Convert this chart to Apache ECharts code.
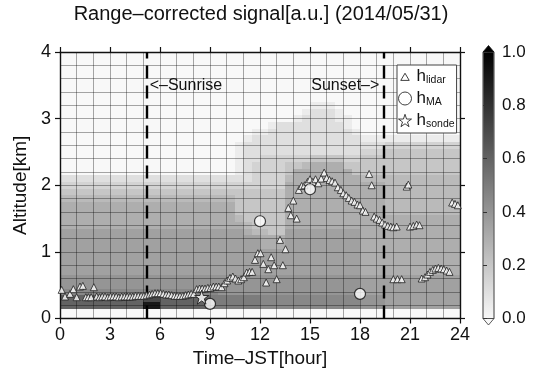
<!DOCTYPE html>
<html><head><meta charset="utf-8">
<script src="https://cdn.jsdelivr.net/npm/echarts@6/dist/echarts.min.js"></script>
<style>html,body{margin:0;padding:0;background:#fff}#c{width:538px;height:374px}</style>
</head><body><div id="c"></div>
<script>
// ---------------- data ----------------
const titleText = 'Range\u2013corrected signal[a.u.] (2014/05/31)';
const xAxisName = 'Time\u2013JST[hour]';
const yAxisName = 'Altitude[km]';
const sunriseText = '<\u2013Sunrise';
const sunsetText = 'Sunset\u2013>';
const sunriseHour = 5.2;
const sunsetHour = 19.4;
const colorbarTicks = [0.0, 0.2, 0.4, 0.6, 0.8, 1.0];

// range-corrected signal, 0.5 h time bins; rows from top to bottom between altEdges
const timeBinWidth = 0.5;
const altEdges = [4.0, 3.5, 3.25, 3.15, 3.05, 2.95, 2.85, 2.75, 2.65, 2.55, 2.45, 2.35, 2.25, 2.15, 2.05,
  1.95, 1.85, 1.75, 1.65, 1.55, 1.45, 1.35, 1.25, 1.15, 1.05, 0.95, 0.85, 0.75, 0.65, 0.55, 0.45, 0.35, 0.25, 0.15, 0];
// base-36 char c => signal parseInt(c,36)/20 (0..9 = 0..0.45, a..k = 0.5..1.0)
// spaces only separate hour groups (0-9, 9-12, 12-13.5, 13.5-18, 18-19.5, 19.5-24)
const signalRows = [
  "000000000000000000 000000 000 000000000 000 000000000",
  "000000000000000000 000000 000 000000000 000 000000000",
  "000000000000000000 000000 000 000111000 000 000000000",
  "000000000000000000 000000 000 001222100 000 000000000",
  "000000000000000000 000000 000 012222110 000 000000000",
  "000000000000000000 000000 012 222222210 000 000000000",
  "000000000000000000 000001 122 222222221 000 000000000",
  "000000000000000000 000012 222 222222222 111 111111111",
  "000000000000000000 000122 222 222222222 222 333333333",
  "000000000000000000 000122 222 222222222 333 444444444",
  "000000000000000000 000122 333 333444433 444 444444444",
  "000000000000000000 000123 333 445666644 444 444444444",
  "000000000000000000 000123 333 466666664 444 444444444",
  "222222222222222222 222223 333 566666666 555 555555555",
  "333333333333333333 333333 333 666666666 666 555555555",
  "444444444444444444 444444 444 666666666 666 555555555",
  "555555555555555555 555444 444 666666666 666 555555555",
  "666666666666666666 666444 444 666666666 666 555555555",
  "666666666666666666 666444 444 666666666 666 555555555",
  "666666666666666666 666544 444 666666666 666 666666666",
  "666666666666666666 666654 444 666666666 666 666666666",
  "777777777777777777 777765 544 777777777 666 666666666",
  "777777777777777777 777777 666 777777777 666 666666666",
  "777777777777777777 777777 666 777777777 666 666666666",
  "777777777777777777 777777 777 777777777 666 666666666",
  "777777777777777777 777777 777 777777777 666 666666666",
  "777777777777777777 777777 777 777777777 666 666666666",
  "777777777777777777 777777 777 777777777 666 666666666",
  "888888888888888888 888888 888 888888888 777 777777777",
  "888888888888888888 888888 888 888888888 777 777777777",
  "999999999999999999 988888 888 888888888 777 777777777",
  "cccccccccceecccccc aaaaaa 999 999999999 888 777777777",
  "cccccccccciicccccc aaaaaa 999 999999999 888 777777777",
  "000000000000000000 000000 000 000000000 000 000000000"
];

const lidarHour = [
  0.1, 0.3, 0.6, 0.8, 1.0, 1.2, 1.37, 1.55, 1.7, 1.87, 2.03,
  2.2, 2.37, 2.53, 2.7, 2.87, 3.03, 3.2, 3.37, 3.53, 3.7, 3.87, 4.03, 4.2, 4.37, 4.53, 4.7, 4.87, 5.03, 5.2,
  5.37, 5.53, 5.7, 5.87, 6.03, 6.2, 6.37, 6.53, 6.7, 6.87, 7.03, 7.2, 7.37, 7.53, 7.7, 7.87, 8.03,
  8.2, 8.37, 8.53, 8.7, 8.87, 9.03, 9.2, 9.37, 9.53, 9.7, 9.87, 10.03, 10.2, 10.37, 10.53, 10.7, 10.87, 11.03, 11.2, 11.37, 11.53,
  11.7, 11.87, 12.03, 12.2, 12.37, 12.5, 12.67, 12.85, 13.0, 13.2, 13.37, 13.53,
  13.7, 13.85, 14.0, 14.2, 14.33, 14.5, 14.67, 14.85, 15.0, 15.17, 15.33, 15.5, 15.67, 15.85, 16.0, 16.17, 16.33, 16.5, 16.67, 16.85, 17.0, 17.17, 17.33, 17.5, 17.67, 17.85, 18.0, 18.17, 18.33,
  18.55, 18.7, 18.85, 19.0, 19.17, 19.33, 19.5, 19.67, 19.85, 20.0, 20.2,
  20.0, 20.25, 20.5,
  20.8, 20.9,
  21.0, 21.2, 21.4, 21.57,
  21.7, 21.9, 22.05, 22.2, 22.37, 22.53, 22.7, 22.87, 23.03, 23.2, 23.37,
  23.53, 23.7, 23.87
];
const lidarAlt = [
  0.43, 0.33, 0.37, 0.44, 0.32, 0.48, 0.49, 0.32, 0.32, 0.32, 0.47,
  0.33, 0.32, 0.33, 0.33, 0.32, 0.33, 0.33, 0.33, 0.32, 0.33, 0.33, 0.33, 0.33, 0.33, 0.34, 0.34, 0.34, 0.34, 0.35,
  0.36, 0.37, 0.38, 0.38, 0.38, 0.37, 0.36, 0.36, 0.35, 0.34, 0.34, 0.34, 0.34, 0.35, 0.36, 0.37, 0.37,
  0.44, 0.45, 0.45, 0.45, 0.46, 0.46, 0.48, 0.48, 0.48, 0.47, 0.53, 0.57, 0.61, 0.63, 0.6, 0.57, 0.59, 0.62, 0.69, 0.7, 0.7,
  0.88, 0.98, 0.98, 0.82, 0.54, 0.74, 0.92, 0.8, 0.59, 1.18, 0.8, 1.04,
  1.66, 1.55, 1.77, 1.5, 1.93, 1.99, 2.0, 2.05, 2.09, 2.05, 2.09, 2.03, 2.1, 2.19, 2.11, 2.08, 2.06, 2.04, 1.97, 1.93, 1.88, 1.85, 1.81, 1.77, 1.75, 1.71, 1.70, 1.62, 1.6,
  2.17, 2.0, 1.53, 1.5, 1.48, 1.44, 1.41, 1.39, 1.38, 1.37, 1.38,
  0.59, 0.59, 0.59,
  1.98, 2.01,
  1.38, 1.39, 1.41, 1.4,
  0.6, 0.62, 0.66, 0.7, 0.73, 0.75, 0.76, 0.75, 0.74, 0.72, 0.7,
  1.74, 1.72, 1.7
];
const maHour = [9.0, 12.0, 15.0, 18.0];
const maAlt = [0.22, 1.46, 1.94, 0.37];
const sondeHour = [8.5];
const sondeAlt = [0.32];

// ---------------- chart ----------------
const FONT = '"Liberation Sans", Arial, Helvetica, sans-serif';
const INK = '#111';
const GRIDC = 'rgba(0,0,0,0.34)';
function grayOf(v) { const g = Math.round(248 * (1 - v)); return 'rgb(' + g + ',' + g + ',' + g + ')'; }

const cells = [];
signalRows.forEach(function (row, i) {
  const s = row.replace(/ /g, '');
  if (s.length !== 48) throw new Error('signal row ' + i + ' has ' + s.length + ' bins');
  for (let c = 0; c < s.length; c++) {
    cells.push([c * timeBinWidth, (c + 1) * timeBinWidth, altEdges[i + 1], altEdges[i], parseInt(s[c], 36) / 20]);
  }
});
if (lidarHour.length !== lidarAlt.length) throw new Error('lidar arrays differ ' + lidarHour.length + ' ' + lidarAlt.length);

const starPath = 'path://M50,2 L61.2,36.1 L97,36.1 L68,57.3 L79.1,91.4 L50,70.3 L20.9,91.4 L32,57.3 L3,36.1 L38.8,36.1 Z';
const triLegendPath = 'path://M0,0 M20,20 M10,5 L16.5,16 L3.5,16 Z';
const subNames = { h_lidar: 'lidar', h_MA: 'MA', h_sonde: 'sonde' };

const chart = echarts.init(document.getElementById('c'), null, { renderer: 'canvas' });
const axisLineStyle = { color: INK, width: 1.4 };
chart.setOption({
  animation: false,
  textStyle: { fontFamily: FONT },
  grid: [
    { left: 60, top: 52, width: 400, height: 266.5, outerBoundsMode: 'none', containLabel: false },
    { left: 483, top: 52, width: 11, height: 266.5, outerBoundsMode: 'none', containLabel: false }
  ],
  xAxis: [
    { type: 'value', gridIndex: 0, min: 0, max: 24, interval: 3, position: 'bottom', z: 3,
      name: xAxisName, nameLocation: 'middle', nameGap: 27,
      nameTextStyle: { fontSize: 19, color: INK, fontFamily: FONT },
      axisLine: { show: true, onZero: false, lineStyle: axisLineStyle },
      axisTick: { show: true, inside: false, length: 5, lineStyle: { color: INK, width: 1.2 } },
      axisLabel: { fontSize: 18, color: INK, margin: 8, fontFamily: FONT },
      splitLine: { show: true, lineStyle: { color: GRIDC, width: 1 } },
      minorTick: { show: false, splitNumber: 3 },
      minorSplitLine: { show: true, lineStyle: { color: GRIDC, width: 1 } } },
    { type: 'value', gridIndex: 0, min: 0, max: 24, interval: 3, position: 'top', z: 3,
      axisLine: { show: true, onZero: false, lineStyle: axisLineStyle },
      axisTick: { show: true, inside: false, length: 5, lineStyle: { color: INK, width: 1.2 } },
      axisLabel: { show: false }, splitLine: { show: false } },
    { type: 'value', gridIndex: 1, min: 0, max: 1, show: false }
  ],
  yAxis: [
    { type: 'value', gridIndex: 0, min: 0, max: 4, interval: 1, position: 'left', z: 3,
      name: yAxisName, nameLocation: 'middle', nameGap: 29, nameRotate: 90,
      nameTextStyle: { fontSize: 19, color: INK, fontFamily: FONT },
      axisLine: { show: true, onZero: false, lineStyle: axisLineStyle },
      axisTick: { show: true, inside: false, length: 5, lineStyle: { color: INK, width: 1.2 } },
      axisLabel: { fontSize: 18, color: INK, margin: 9, fontFamily: FONT },
      splitLine: { show: true, lineStyle: { color: GRIDC, width: 1 } },
      minorTick: { show: false, splitNumber: 5 },
      minorSplitLine: { show: true, lineStyle: { color: GRIDC, width: 1 } } },
    { type: 'value', gridIndex: 0, min: 0, max: 4, interval: 1, position: 'right', z: 3,
      axisLine: { show: true, onZero: false, lineStyle: axisLineStyle },
      axisTick: { show: true, inside: false, length: 5, lineStyle: { color: INK, width: 1.2 } },
      axisLabel: { show: false }, splitLine: { show: false } },
    { type: 'value', gridIndex: 1, min: 0, max: 1, interval: 0.2, position: 'right', z: 3,
      axisLine: { show: false },
      axisTick: { show: true, inside: false, length: 4, lineStyle: { color: '#333', width: 1 } },
      axisLabel: { fontSize: 17, color: INK, margin: 8, fontFamily: FONT, formatter: function (v) { return v.toFixed(1); } },
      splitLine: { show: false } }
  ],
  legend: {
    data: [
      { name: 'h_lidar', icon: triLegendPath },
      { name: 'h_MA', icon: 'circle' },
      { name: 'h_sonde', icon: starPath }
    ],
    orient: 'vertical', left: 397, top: 65, z: 10,
    padding: [3, 2, 3, 1], itemGap: 4, itemWidth: 13, itemHeight: 13,
    backgroundColor: '#fff', borderColor: '#444', borderWidth: 1, borderRadius: 0,
    itemStyle: { color: '#fff', borderColor: INK, borderWidth: 1 },
    formatter: function (n) { return '{h|h}{s|' + subNames[n] + '}'; },
    textStyle: { color: INK, fontFamily: FONT,
      rich: { h: { fontSize: 17, color: INK, fontFamily: FONT },
              s: { fontSize: 10.5, color: INK, fontFamily: FONT, padding: [8, 0, 0, 0] } } }
  },
  series: [
    { type: 'custom', name: 'signal', xAxisIndex: 0, yAxisIndex: 0, z: 1, silent: true,
      encode: { x: [0, 1], y: [2, 3] }, data: cells,
      renderItem: function (params, api) {
        const p0 = api.coord([api.value(0), api.value(3)]);
        const p1 = api.coord([api.value(1), api.value(2)]);
        const x = Math.round(p0[0]), y = Math.round(p0[1]);
        return { type: 'rect', shape: { x: x, y: y, width: Math.round(p1[0]) - x, height: Math.round(p1[1]) - y },
                 style: { fill: grayOf(api.value(4)) } };
      } },
    { type: 'custom', name: 'colorbar', xAxisIndex: 2, yAxisIndex: 2, z: 2, silent: true,
      data: [[0, 0]],
      renderItem: function (params, api) {
        const tl = api.coord([0, 1]), br = api.coord([1, 0]);
        const x0 = tl[0], y0 = tl[1], x1 = br[0], y1 = br[1], mid = (x0 + x1) / 2;
        return { type: 'group', children: [
          { type: 'rect', shape: { x: x0, y: y0, width: x1 - x0, height: y1 - y0 },
            style: { fill: new echarts.graphic.LinearGradient(0, 0, 0, 1, [
              { offset: 0, color: grayOf(1) }, { offset: 1, color: grayOf(0) }]), stroke: '#666', lineWidth: 0.8 } },
          { type: 'polygon', shape: { points: [[x0, y0], [x1, y0], [mid, y0 - 6.5]] }, style: { fill: grayOf(1), stroke: '#111', lineWidth: 0.8 } },
          { type: 'polygon', shape: { points: [[x0, y1], [x1, y1], [mid, y1 + 6.5]] }, style: { fill: grayOf(0), stroke: '#333', lineWidth: 0.8 } }
        ] };
      } },
    { type: 'scatter', name: 'marks', xAxisIndex: 0, yAxisIndex: 0, data: [], z: 4, silent: true,
      markLine: { silent: true, symbol: 'none', z: 4, label: { show: false },
        lineStyle: { type: [13, 7], width: 2.4, color: '#000' },
        data: [{ xAxis: sunriseHour }, { xAxis: sunsetHour }] } },
    { type: 'scatter', name: 'h_lidar', xAxisIndex: 0, yAxisIndex: 0, z: 6,
      data: lidarHour.map(function (h, i) { return [h, lidarAlt[i]]; }),
      symbol: 'triangle', symbolSize: [7, 7],
      itemStyle: { color: '#fff', borderColor: '#222', borderWidth: 1 } },
    { type: 'scatter', name: 'h_MA', xAxisIndex: 0, yAxisIndex: 0, z: 7,
      data: maHour.map(function (h, i) { return [h, maAlt[i]]; }),
      symbol: 'circle', symbolSize: 11,
      itemStyle: { color: '#fff', borderColor: '#111', borderWidth: 1.2 } },
    { type: 'scatter', name: 'h_sonde', xAxisIndex: 0, yAxisIndex: 0, z: 8,
      data: sondeHour.map(function (h, i) { return [h, sondeAlt[i]]; }),
      symbol: starPath, symbolSize: 14,
      itemStyle: { color: '#fff', borderColor: '#111', borderWidth: 1 } }
  ]
});

const labelAlt = 3.49;
const pRise = chart.convertToPixel({ xAxisIndex: 0, yAxisIndex: 0 }, [sunriseHour, labelAlt]);
const pSet = chart.convertToPixel({ xAxisIndex: 0, yAxisIndex: 0 }, [sunsetHour, labelAlt]);
const plotMid = chart.convertToPixel({ xAxisIndex: 0 }, 12);
chart.setOption({
  graphic: [
    { type: 'text', x: plotMid + 1, y: 14, z: 20,
      style: { text: titleText, fill: INK, fontSize: 20, fontFamily: FONT, align: 'center', verticalAlign: 'middle' } },
    { type: 'text', x: pRise[0] + 3, y: pRise[1], z: 20,
      style: { text: sunriseText, fill: INK, fontSize: 16, fontFamily: FONT, align: 'left', verticalAlign: 'middle' } },
    { type: 'text', x: pSet[0] - 4, y: pSet[1], z: 20,
      style: { text: sunsetText, fill: INK, fontSize: 16, fontFamily: FONT, align: 'right', verticalAlign: 'middle' } }
  ]
});
</script>
</body></html>
